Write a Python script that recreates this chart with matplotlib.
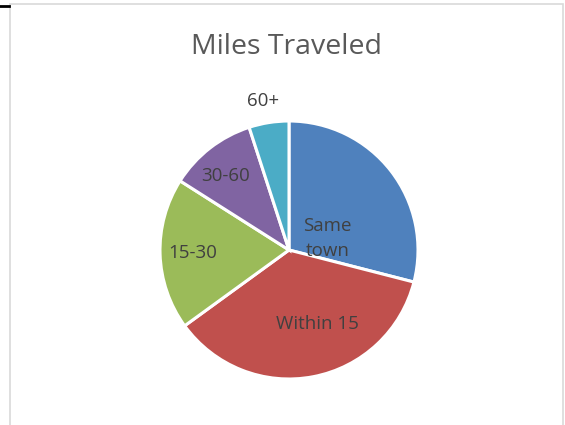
import matplotlib.pyplot as plt
from matplotlib.patches import Rectangle
from matplotlib.lines import Line2D

labels = ["Same\ntown", "Within 15", "15-30", "30-60", "60+"]
values = [29, 36, 19, 11, 5]
colors = ["#4F81BD", "#C0504D", "#9BBB59", "#8064A2", "#4BACC6"]

# where each label sits, in units of the pie radius
label_xy = [(0.30, 0.09), (0.22, -0.57), (-0.75, -0.02), (-0.49, 0.57), (-0.20, 1.155)]

W, H = 565, 425
cx, cy, r = 289, 250, 129

fig = plt.figure(figsize=(W / 100, H / 100), dpi=100)
ax = fig.add_axes([0, 0, 1, 1])

ax.pie(values, colors=colors, startangle=90, counterclock=False, radius=1,
       wedgeprops=dict(edgecolor="white", linewidth=2.2))

for (lx, ly), lab in zip(label_xy, labels):
    ax.text(lx, ly, lab, ha="center", va="center", fontsize=13.5,
            family="Open Sans", color="#404040", linespacing=1.45)

ax.set_xlim(-cx / r, (W - cx) / r)
ax.set_ylim(-(H - cy) / r, cy / r)
ax.set_aspect("equal")
ax.axis("off")

fig.text(286.5 / W, 1 - 54 / H, "Miles Traveled", ha="center", va="baseline",
         fontsize=20.5, family="Open Sans", color="#595959")

# chart frame and the little black tick at top left
fig.patches.append(Rectangle((10 / W, -0.1), 553 / W, 1.1 - 4.5 / H,
                             transform=fig.transFigure, fill=False,
                             edgecolor="#D9D9D9", linewidth=1.2))
fig.lines.append(Line2D([0, 9 / W], [1 - 6 / H, 1 - 6 / H], transform=fig.transFigure,
                        color="black", linewidth=2))

fig.savefig("out.png", dpi=100)
